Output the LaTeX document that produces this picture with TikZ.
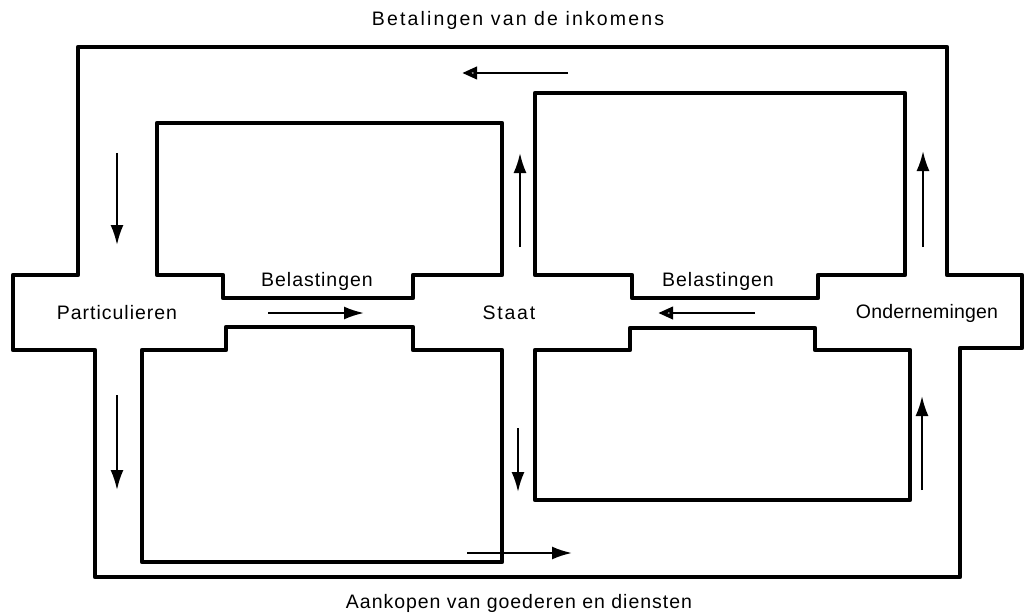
\documentclass[tikz,border=0pt]{standalone}
\usepackage{fontspec}
\setmainfont{Liberation Sans}[LetterSpace=5]
\usetikzlibrary{arrows.meta}
\begin{document}
\begin{tikzpicture}[x=1pt,y=-1pt,
  wall/.style={line width=4.6pt, line join=round},
  flow/.style={line width=2.2pt, -{Latex[length=20pt,width=13pt]}},
  oflow/.style={line width=2.2pt, -{Triangle[open,length=15pt,width=12pt,line width=3.6pt]}},
  lbl/.style={font=\fontsize{19.5}{22}\selectfont, inner sep=0pt}]
\useasboundingbox (0,0) rectangle (1028,615);
% outer frame
\draw[wall] (78,47) -- (947,47) -- (947,275) -- (1022,275) -- (1022,348) -- (960,348)
  -- (960,577) -- (95,577) -- (95,350) -- (13,350) -- (13,275) -- (78,275) -- cycle;
% upper-left block
\draw[wall] (157,123) -- (502,123) -- (502,275) -- (413,275) -- (413,298) -- (223,298)
  -- (223,275) -- (157,275) -- cycle;
% lower-left block
\draw[wall] (142,350) -- (226,350) -- (226,327) -- (413,327) -- (413,350) -- (502,350)
  -- (502,562) -- (142,562) -- cycle;
% upper-right block
\draw[wall] (535,93) -- (905,93) -- (905,275) -- (818,275) -- (818,298) -- (632,298)
  -- (632,275) -- (535,275) -- cycle;
% lower-right block
\draw[wall] (535,350) -- (630,350) -- (630,328) -- (815,328) -- (815,350) -- (910,350)
  -- (910,500) -- (535,500) -- cycle;
% labels
\node[lbl] (top) at (518,20) {\addfontfeature{LetterSpace=11}Betalingen van de inkomens};
\node[lbl] (bot) at (519,603) {Aankopen van goederen en diensten};
\node[lbl] (part) at (117,313) {Particulieren};
\node[lbl] (bel1) at (317,281) {Belastingen};
\node[lbl] (bel2) at (718,281) {Belastingen};
\node[lbl] (staat) at (509,313) {\addfontfeature{LetterSpace=9}Staat};
\node[lbl] (ond) at (927,313) {\addfontfeature{LetterSpace=1}Ondernemingen};
% arrow end points
\coordinate (a1s) at (568,73); \coordinate (a1e) at (462,73);
\coordinate (a2s) at (117,153); \coordinate (a2e) at (117,245);
\coordinate (a3s) at (117,395); \coordinate (a3e) at (117,490);
\coordinate (a4s) at (268,313); \coordinate (a4e) at (364,313);
\coordinate (a5s) at (755,313); \coordinate (a5e) at (658,313);
\coordinate (a6s) at (520,247); \coordinate (a6e) at (520,153);
\coordinate (a7s) at (518,428); \coordinate (a7e) at (518,492);
\coordinate (a8s) at (467,553); \coordinate (a8e) at (572,553);
\coordinate (a9s) at (923,247); \coordinate (a9e) at (923,151);
\coordinate (a10s) at (922,490); \coordinate (a10e) at (922,396);
% arrows
\draw[oflow] (a1s) -- (a1e);
\draw[flow] (a2s) -- (a2e);
\draw[flow] (a3s) -- (a3e);
\draw[flow] (a4s) -- (a4e);
\draw[oflow] (a5s) -- (a5e);
\draw[flow] (a6s) -- (a6e);
\draw[flow] (a7s) -- (a7e);
\draw[flow] (a8s) -- (a8e);
\draw[flow] (a9s) -- (a9e);
\draw[flow] (a10s) -- (a10e);
\end{tikzpicture}
\end{document}
